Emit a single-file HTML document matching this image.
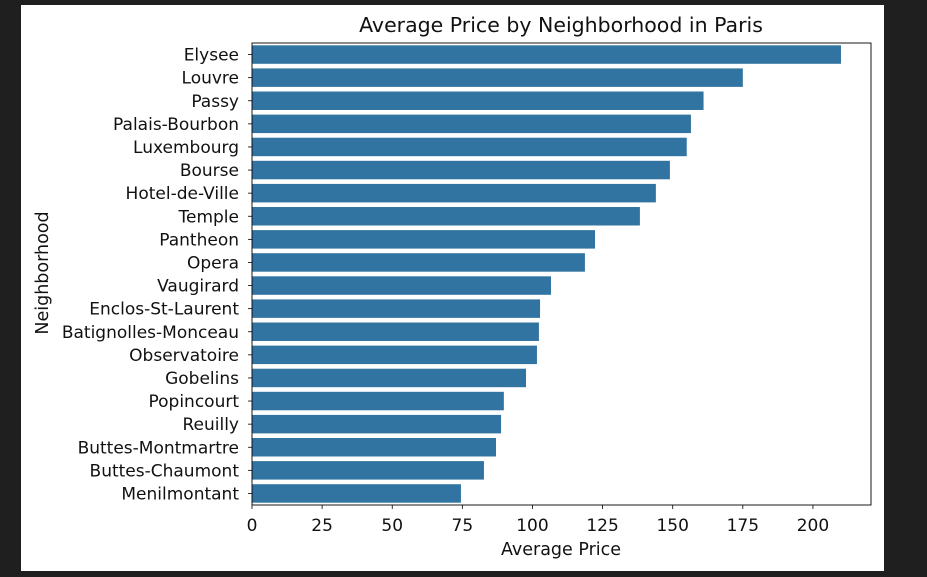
<!DOCTYPE html>
<html><head><meta charset="utf-8"><style>
body{margin:0;background:#1f1f1f;width:927px;height:577px;overflow:hidden}
svg{position:absolute;left:0;top:0;font-family:"DejaVu Sans","Liberation Sans",sans-serif}
</style></head><body>
<svg width="927" height="577">
<rect x="21" y="5" width="863" height="566" fill="#fff"/>
<g id="plot"></g>
</svg>
<script>
const categories=["Elysee","Louvre","Passy","Palais-Bourbon","Luxembourg","Bourse","Hotel-de-Ville","Temple","Pantheon","Opera","Vaugirard","Enclos-St-Laurent","Batignolles-Monceau","Observatoire","Gobelins","Popincourt","Reuilly","Buttes-Montmartre","Buttes-Chaumont","Menilmontant"];
const prices=[210,175,161,156.5,155,149,144,138.3,122.3,118.7,106.6,102.7,102.3,101.6,97.7,89.8,88.8,87,82.7,74.5];
const xTicks=[0,25,50,75,100,125,150,175,200];
const L=252,R=871,T=43,B=505,xMax=220.7;
const NS="http://www.w3.org/2000/svg";
const g=document.getElementById('plot');
const x=v=>L+(R-L)*v/xMax;
const step=(B-T)/categories.length;
const y=i=>T+step*i;
function mk(t,a,txt){const e=document.createElementNS(NS,t);for(const k in a)e.setAttribute(k,a[k]);if(txt!=null)e.textContent=txt;g.appendChild(e);return e;}
categories.forEach((c,i)=>{
 const b=mk('rect',{x:L,y:y(i)+step*0.1,width:x(prices[i])-L,height:step*0.8,fill:'#3274a1'});
 
 
 const cy=y(i)+step/2;
 mk('line',{x1:L-4,x2:L,y1:cy,y2:cy,stroke:'#000','stroke-width':0.8});
 const t=mk('text',{x:L-13,y:cy+6,'text-anchor':'end','font-size':17,fill:'#111'},c);
 
 
});
xTicks.forEach(v=>{
 mk('line',{x1:x(v),x2:x(v),y1:B,y2:B+4,stroke:'#000','stroke-width':0.8});
 const t=mk('text',{x:x(v),y:B+26,'text-anchor':'middle','font-size':17,fill:'#111'},v);
 
 
});
const f=mk('rect',{x:L,y:T,width:R-L,height:B-T,fill:'none',stroke:'#000','stroke-width':0.9});


const ti=mk('text',{x:561,y:32,'text-anchor':'middle','font-size':20.5,fill:'#111'},'Average Price by Neighborhood in Paris');


const xl=mk('text',{x:561,y:555,'text-anchor':'middle','font-size':17.5,fill:'#111'},'Average Price');


const yl=mk('text',{x:0,y:0,'text-anchor':'middle','font-size':17.5,fill:'#111',transform:'translate(48,273) rotate(-90)'},'Neighborhood');


</script>
</body></html>
